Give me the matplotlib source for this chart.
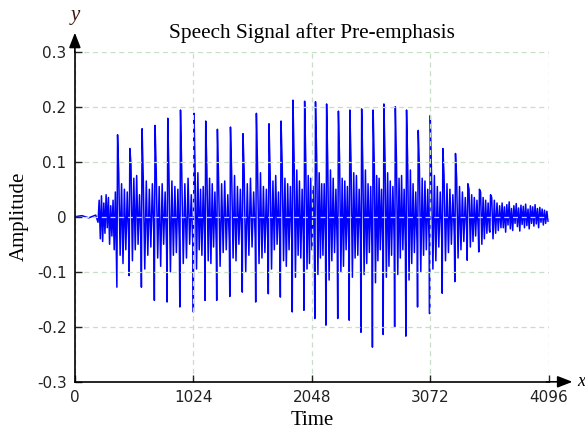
import numpy as np
import matplotlib.pyplot as plt

# pitch pulses (sample index, top of spike, bottom of spike)
pulse_t = [369, 475, 581, 693, 803, 913, 1030, 1131, 1232, 1345, 1453, 1569, 1678, 1782, 1885, 1986,
           2080, 2176, 2278, 2377, 2479, 2578, 2671, 2770, 2867, 2968, 3072, 3181, 3290, 3397, 3497, 3593]
pulse_hi = [0.149, 0.124, 0.160, 0.166, 0.179, 0.194, 0.188, 0.174, 0.159, 0.163, 0.151, 0.188, 0.169, 0.174, 0.212, 0.210,
            0.209, 0.205, 0.192, 0.194, 0.196, 0.194, 0.205, 0.200, 0.194, 0.157, 0.184, 0.124, 0.115, 0.060, 0.050, 0.040]
pulse_lo = [-0.128, -0.107, -0.128, -0.152, -0.155, -0.164, -0.173, -0.152, -0.152, -0.145, -0.137, -0.155, -0.140, -0.146, -0.173, -0.170,
            -0.185, -0.197, -0.185, -0.188, -0.210, -0.237, -0.214, -0.200, -0.217, -0.164, -0.176, -0.139, -0.118, -0.079, -0.064, -0.028]

# smaller swings between the pulses, one row per pitch period
body = [
    [0.080, -0.070, 0.060, -0.085, 0.050, -0.060, 0.045, -0.040],
    [0.095, -0.080, 0.070, -0.060, 0.075, -0.050, 0.040, -0.045],
    [0.070, -0.095, 0.065, -0.070, 0.050, -0.055, 0.060, -0.040],
    [0.085, -0.075, 0.055, -0.090, 0.060, -0.050, 0.045, -0.060],
    [0.080, -0.100, 0.065, -0.070, 0.055, -0.065, 0.050, -0.045],
    [0.090, -0.085, 0.060, -0.075, 0.070, -0.050, 0.040, -0.055],
    [0.075, -0.095, 0.080, -0.060, 0.050, -0.070, 0.055, -0.040],
    [0.085, -0.080, 0.070, -0.085, 0.060, -0.055, 0.045, -0.050],
    [0.070, -0.090, 0.060, -0.065, 0.065, -0.060, 0.040, -0.045],
    [0.080, -0.075, 0.075, -0.080, 0.055, -0.050, 0.050, -0.055],
    [0.085, -0.100, 0.060, -0.070, 0.070, -0.055, 0.045, -0.040],
    [0.090, -0.085, 0.080, -0.075, 0.055, -0.065, 0.050, -0.050],
    [0.080, -0.095, 0.065, -0.060, 0.075, -0.050, 0.045, -0.055],
    [0.095, -0.080, 0.070, -0.090, 0.060, -0.060, 0.055, -0.045],
    [0.105, -0.110, 0.085, -0.070, 0.065, -0.075, 0.050, -0.050],
    [0.100, -0.095, 0.075, -0.085, 0.070, -0.060, 0.055, -0.055],
    [0.110, -0.105, 0.080, -0.075, 0.060, -0.070, 0.060, -0.045],
    [0.095, -0.115, 0.085, -0.080, 0.070, -0.065, 0.050, -0.055],
    [0.105, -0.100, 0.070, -0.090, 0.065, -0.060, 0.055, -0.050],
    [0.100, -0.110, 0.080, -0.075, 0.075, -0.070, 0.050, -0.045],
    [0.090, -0.105, 0.085, -0.085, 0.060, -0.065, 0.055, -0.055],
    [0.095, -0.120, 0.075, -0.080, 0.070, -0.060, 0.050, -0.050],
    [0.105, -0.110, 0.080, -0.090, 0.065, -0.070, 0.055, -0.045],
    [0.100, -0.105, 0.070, -0.075, 0.075, -0.060, 0.050, -0.055],
    [0.095, -0.115, 0.085, -0.085, 0.060, -0.065, 0.045, -0.050],
    [0.090, -0.100, 0.070, -0.070, 0.065, -0.060, 0.050, -0.045],
    [0.085, -0.095, 0.075, -0.080, 0.055, -0.055, 0.045, -0.040],
    [0.075, -0.080, 0.060, -0.065, 0.050, -0.050, 0.040, -0.035],
    [0.070, -0.075, 0.055, -0.060, 0.045, -0.045, 0.035, -0.030],
    [0.050, -0.055, 0.040, -0.045, 0.035, -0.035, 0.030, -0.025],
    [0.045, -0.050, 0.035, -0.040, 0.030, -0.030, 0.025, -0.025],
    [0.035, -0.040, 0.030, -0.030, 0.025, -0.025, 0.020, -0.020],
]

# near-silence and onset before the first pulse
onset_t = [0, 60, 120, 180, 200, 210, 220, 230, 240, 250, 260, 270, 280, 290, 300, 310, 320, 330, 340, 350]
onset_v = [0.0, 0.002, -0.002, 0.003, -0.010, 0.030, -0.040, 0.038, -0.045, 0.025, -0.030, 0.040,
           -0.020, 0.035, -0.050, 0.020, -0.035, 0.030, -0.060, 0.045]

# decaying tail after the voiced part
tail_v = [0.025, -0.020, 0.018, -0.028, 0.022, -0.015, 0.027, -0.022, 0.015, -0.025, 0.020, -0.012,
          0.024, -0.018, 0.016, -0.026, 0.021, -0.014, 0.019, -0.020, 0.023, -0.016, 0.014, -0.022,
          0.020, -0.012, 0.018, -0.017, 0.022, -0.013, 0.015, -0.020, 0.017, -0.010, 0.014, -0.015,
          0.012, -0.012, 0.010, -0.008]
tail_end = 4090

t = list(onset_t)
v = list(onset_v)
for i in range(len(pulse_t)):
    start = pulse_t[i]
    stop = pulse_t[i + 1] if i + 1 < len(pulse_t) else start + 100
    t += [start - 6, start]
    v += [pulse_lo[i], pulse_hi[i]]
    bt = np.linspace(start + 10, stop - 10, len(body[i]))
    t += list(bt)
    v += body[i]
tt = np.linspace(pulse_t[-1] + 100, tail_end, len(tail_v))
t += list(tt)
v += tail_v

fig = plt.figure(figsize=(5.85, 4.29), dpi=100)
ax = fig.add_axes([0.128, 0.110, 0.810, 0.7695])

ax.plot(t, v, color='#0000ff', lw=1.1, zorder=2)

ax.set_xlim(0, 4096)
ax.set_ylim(-0.3, 0.3)
ax.set_xticks([0, 1024, 2048, 3072, 4096])
ax.set_yticks([-0.3, -0.2, -0.1, 0, 0.1, 0.2, 0.3])
ax.set_yticklabels(['-0.3', '-0.2', '-0.1', '0', '0.1', '0.2', '0.3'])
ax.grid(True, color='#c6dfc6', linestyle=(0, (4, 3)), lw=0.9, zorder=3)
ax.set_axisbelow(False)
for s in ['top', 'right']:
    ax.spines[s].set_visible(False)
for s in ['left', 'bottom']:
    ax.spines[s].set_linewidth(1.2)
    ax.spines[s].set_zorder(5)
ax.tick_params(direction='in', length=5, width=1, labelsize=11, pad=6, colors='#222222')

ax.set_title('Speech Signal after Pre-emphasis', family='Liberation Serif', fontsize=15.3, pad=10)
ax.set_xlabel('Time', family='Liberation Serif', fontsize=15, labelpad=4)
ax.set_ylabel('Amplitude', family='Liberation Serif', fontsize=15, labelpad=6)

# axis arrows
ax.annotate('', xy=(1.056, 0), xytext=(0.99, 0), xycoords='axes fraction',
            arrowprops=dict(arrowstyle='-|>,head_length=0.9,head_width=0.35', color='black', lw=1.2))
ax.annotate('', xy=(0, 1.066), xytext=(0, 0.99), xycoords='axes fraction',
            arrowprops=dict(arrowstyle='-|>,head_length=0.9,head_width=0.35', color='black', lw=1.2))
ax.text(1.060, 0.0, 'x', transform=ax.transAxes, family='Liberation Serif', style='italic',
        fontsize=13, va='center', ha='left', clip_on=False)
ax.text(0.0, 1.11, 'y', transform=ax.transAxes, family='Liberation Serif', style='italic',
        fontsize=15, va='center', ha='center', color='#3a1a10')

fig.savefig('out.png', dpi=100)
